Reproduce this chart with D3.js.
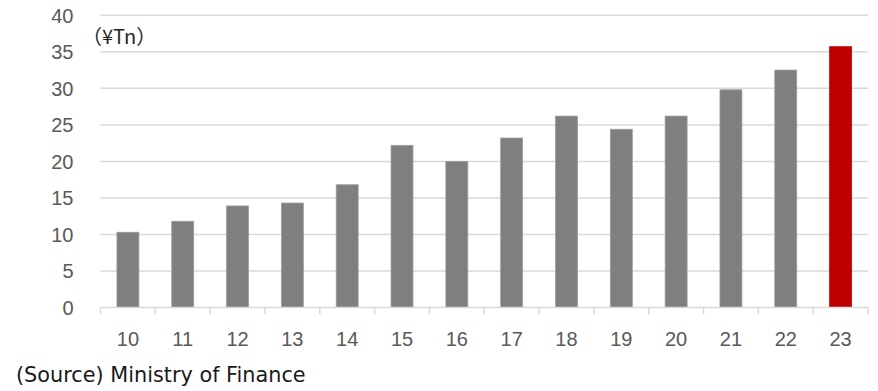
<!DOCTYPE html>
<html>
<head>
<meta charset="utf-8">
<script src="https://cdn.jsdelivr.net/npm/d3@7"></script>
<style>
  html, body { margin: 0; padding: 0; background: #fff; }
  svg { display: block; }
</style>
</head>
<body>
<svg id="chart" width="878" height="391"></svg>
<script>
// Fiscal years (two-digit) and values in trillion yen
const years = ["10", "11", "12", "13", "14", "15", "16", "17", "18", "19", "20", "21", "22", "23"];
const values = [10.3, 11.8, 13.9, 14.3, 16.8, 22.2, 20.0, 23.2, 26.2, 24.4, 26.2, 29.8, 32.5, 35.7];
const yTicks = [0, 5, 10, 15, 20, 25, 30, 35, 40];
const highlightYear = "23";
const unitLabel = "（¥Tn）";
const sourceNote = "(Source) Ministry of Finance";

const svg = d3.select("#chart");
const margin = { left: 100.5, right: 10, top: 15.3, bottom: 83.5 };
const W = 878, H = 391;
const labelFont = "'Liberation Sans', Arial, sans-serif";

const x = d3.scaleBand()
  .domain(years)
  .range([margin.left, W - margin.right])
  .paddingInner(0.6)
  .paddingOuter(0.3);

const xTickScale = d3.scaleBand().domain(years).range([margin.left, W - margin.right]);

const y = d3.scaleLinear()
  .domain([0, 40])
  .range([H - margin.bottom, margin.top]);

// Horizontal gridlines
svg.append("g")
  .selectAll("line")
  .data(yTicks.filter(d => d > 0))
  .join("line")
  .attr("x1", margin.left)
  .attr("x2", W - margin.right)
  .attr("y1", d => y(d))
  .attr("y2", d => y(d))
  .attr("stroke", "#d9d9d9")
  .attr("stroke-width", 1.5);

// Y axis labels
svg.append("g")
  .selectAll("text")
  .data(yTicks)
  .join("text")
  .attr("x", 73.5)
  .attr("y", d => y(d))
  .attr("dy", "0.36em")
  .attr("text-anchor", "end")
  .attr("font-family", labelFont)
  .attr("font-size", 20)
  .attr("fill", "#595959")
  .text(d => d);

// Bars
svg.append("g")
  .selectAll("rect")
  .data(years.map((yr, i) => ({ yr, v: values[i] })))
  .join("rect")
  .attr("x", d => x(d.yr))
  .attr("y", d => y(d.v))
  .attr("width", x.bandwidth())
  .attr("height", d => y(0) - y(d.v))
  .attr("fill", d => d.yr === highlightYear ? "#c00000" : "#7f7f7f")
  .attr("stroke", d => d.yr === highlightYear ? "#c00000" : "#9a9a9a")
  .attr("stroke-width", 0.8);

// X axis baseline with downward ticks
const axisG = svg.append("g").attr("transform", `translate(0,${y(0)})`);
axisG.append("line")
  .attr("x1", margin.left).attr("x2", W - margin.right)
  .attr("stroke", "#d9d9d9").attr("stroke-width", 1.5);
const tickPos = years.map(yr => xTickScale(yr)).concat([W - margin.right]);
axisG.selectAll("line.tick")
  .data(tickPos)
  .join("line")
  .attr("class", "tick")
  .attr("x1", d => d).attr("x2", d => d)
  .attr("y1", 0).attr("y2", 7)
  .attr("stroke", "#d9d9d9").attr("stroke-width", 1.5);

// X axis labels
svg.append("g")
  .selectAll("text")
  .data(years)
  .join("text")
  .attr("x", d => xTickScale(d) + xTickScale.bandwidth() / 2)
  .attr("y", 346)
  .attr("text-anchor", "middle")
  .attr("font-family", labelFont)
  .attr("font-size", 20)
  .attr("fill", "#595959")
  .text(d => d);

// Unit label
svg.append("text")
  .attr("x", 82)
  .attr("y", 44)
  .attr("font-family", "'Noto Sans CJK JP', sans-serif")
  .attr("font-size", 20)
  .attr("fill", "#262626")
  .text(unitLabel);

// Source note
svg.append("text")
  .attr("x", 16)
  .attr("y", 382)
  .attr("font-family", "'DejaVu Sans', Verdana, sans-serif")
  .attr("font-size", 20.8)
  .attr("fill", "#1a1a1a")
  .text(sourceNote);
</script>
</body>
</html>
